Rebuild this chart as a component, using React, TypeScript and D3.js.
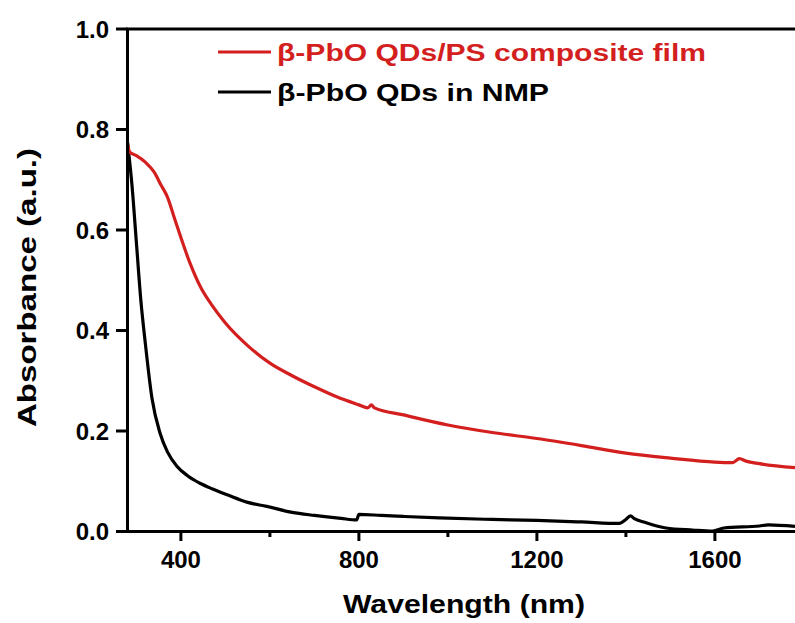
import React, { useEffect, useRef } from 'react'
import * as d3 from 'd3'

// wavelength (nm) / absorbance
const filmWl = [280, 285, 300, 320, 340, 355, 370, 385, 400, 420, 445, 470, 500, 550, 600, 650, 700, 750, 800, 820, 828, 835, 900, 1000, 1100, 1200, 1300, 1400, 1500, 1600, 1640, 1655, 1670, 1700, 1780]
const filmAbs = [0.772, 0.755, 0.748, 0.735, 0.715, 0.69, 0.665, 0.625, 0.585, 0.535, 0.485, 0.45, 0.415, 0.37, 0.335, 0.31, 0.288, 0.268, 0.252, 0.246, 0.252, 0.246, 0.232, 0.212, 0.197, 0.185, 0.171, 0.156, 0.146, 0.138, 0.137, 0.145, 0.14, 0.135, 0.127]

const nmpWl = [280, 290, 300, 310, 320, 335, 353, 370, 391, 415, 443, 470, 504, 550, 593, 650, 700, 760, 795, 800, 850, 900, 980, 1100, 1200, 1300, 1385, 1400, 1410, 1420, 1440, 1490, 1550, 1595, 1620, 1700, 1720, 1780]
const nmpAbs = [0.775, 0.69, 0.575, 0.46, 0.375, 0.265, 0.196, 0.158, 0.13, 0.111, 0.096, 0.085, 0.073, 0.058, 0.05, 0.038, 0.032, 0.026, 0.023, 0.034, 0.032, 0.03, 0.027, 0.024, 0.022, 0.019, 0.016, 0.024, 0.031, 0.025, 0.019, 0.007, 0.003, 0.001, 0.007, 0.011, 0.013, 0.01]

const xMajor = [400, 800, 1200, 1600]
const xMinor = [600, 1000, 1400]
const yTicks = [0.0, 0.2, 0.4, 0.6, 0.8, 1.0]

const legendLabels = ['β-PbO QDs/PS composite film', 'β-PbO QDs in NMP']
const colors = ['#d41f1f', '#000000']

const W = 795
const H = 623
const FONT = '"Liberation Sans", Arial, sans-serif'

const App = () => {
    const ref = useRef<SVGSVGElement>(null)

    useEffect(() => {
        const svg = d3.select(ref.current)
        svg.selectAll('*').remove()

        const x = d3.scaleLinear().domain([280, 1780]).range([127.5, 795])
        const y = d3.scaleLinear().domain([0, 1]).range([531.5, 29])

        svg.append('defs').append('clipPath').attr('id', 'plotclip')
           .append('rect').attr('x', 127.5).attr('y', 29).attr('width', W - 127.5).attr('height', 502.5)

        const line = d3.line<[number, number]>()
                       .x(d => x(d[0]))
                       .y(d => y(d[1]))
                       .curve(d3.curveMonotoneX)

        const series = [
            d3.zip(filmWl, filmAbs) as [number, number][],
            d3.zip(nmpWl, nmpAbs) as [number, number][]
        ]

        // black first so red sits on top
        svg.append('g').attr('clip-path', 'url(#plotclip)')
           .selectAll('path')
           .data([1, 0])
           .join('path')
           .attr('d', i => line(series[i]))
           .attr('fill', 'none')
           .attr('stroke', i => colors[i])
           .attr('stroke-width', 3.2)
           .attr('stroke-linejoin', 'round')

        // frame
        svg.append('line').attr('x1', 127.5).attr('x2', 127.5).attr('y1', 29).attr('y2', 533)
           .attr('stroke', '#000').attr('stroke-width', 3)
        svg.append('line').attr('x1', 126).attr('x2', W).attr('y1', 531.5).attr('y2', 531.5)
           .attr('stroke', '#000').attr('stroke-width', 3)
        svg.append('line').attr('x1', 126).attr('x2', W).attr('y1', 29).attr('y2', 29)
           .attr('stroke', '#000').attr('stroke-width', 3)

        // y ticks
        const yg = svg.append('g')
        yg.selectAll('line').data(yTicks).join('line')
          .attr('x1', 116).attr('x2', 127.5)
          .attr('y1', d => y(d)).attr('y2', d => y(d))
          .attr('stroke', '#000').attr('stroke-width', 3)
        yg.selectAll('text').data(yTicks).join('text')
          .attr('x', 109).attr('y', d => y(d) + 8.5)
          .attr('text-anchor', 'end')
          .attr('font-family', FONT).attr('font-weight', 'bold').attr('font-size', 24)
          .text(d => d3.format('.1f')(d))

        // x ticks
        const xg = svg.append('g')
        xg.selectAll('line.major').data(xMajor).join('line').attr('class', 'major')
          .attr('x1', d => x(d)).attr('x2', d => x(d))
          .attr('y1', 531.5).attr('y2', 541)
          .attr('stroke', '#000').attr('stroke-width', 3)
        xg.selectAll('line.minor').data(xMinor).join('line').attr('class', 'minor')
          .attr('x1', d => x(d)).attr('x2', d => x(d))
          .attr('y1', 531.5).attr('y2', 537)
          .attr('stroke', '#000').attr('stroke-width', 3)
        xg.selectAll('text').data(xMajor).join('text')
          .attr('x', d => x(d)).attr('y', 568)
          .attr('text-anchor', 'middle')
          .attr('font-family', FONT).attr('font-weight', 'bold').attr('font-size', 24)
          .text(d => d)

        // axis titles
        svg.append('text')
           .attr('x', 343).attr('y', 613)
           .attr('font-family', FONT).attr('font-weight', 'bold').attr('font-size', 25)
           .attr('textLength', 242).attr('lengthAdjust', 'spacingAndGlyphs')
           .text('Wavelength (nm)')
        svg.append('text')
           .attr('transform', 'translate(36,427) rotate(-90)')
           .attr('font-family', FONT).attr('font-weight', 'bold').attr('font-size', 25)
           .attr('textLength', 279).attr('lengthAdjust', 'spacingAndGlyphs')
           .text('Absorbance (a.u.)')

        // legend
        const legendY = [52, 92]
        const legendW = [429, 272]
        const lg = svg.append('g')
        lg.selectAll('line').data([0, 1]).join('line')
          .attr('x1', 218).attr('x2', 271)
          .attr('y1', i => legendY[i]).attr('y2', i => legendY[i])
          .attr('stroke', i => colors[i]).attr('stroke-width', 3.2)
        lg.selectAll('text').data([0, 1]).join('text')
          .attr('x', 277).attr('y', i => legendY[i] + 8.5)
          .attr('fill', i => colors[i])
          .attr('font-family', FONT).attr('font-weight', 'bold').attr('font-size', 23)
          .attr('textLength', i => legendW[i]).attr('lengthAdjust', 'spacingAndGlyphs')
          .text(i => legendLabels[i])
    }, [])

    return (
        <div>
            <svg ref={ref} width={W} height={H}
                 style={{ position: 'absolute', left: 0, top: 0, background: '#fff' }}>
            </svg>
        </div>
    )
}

export default App
